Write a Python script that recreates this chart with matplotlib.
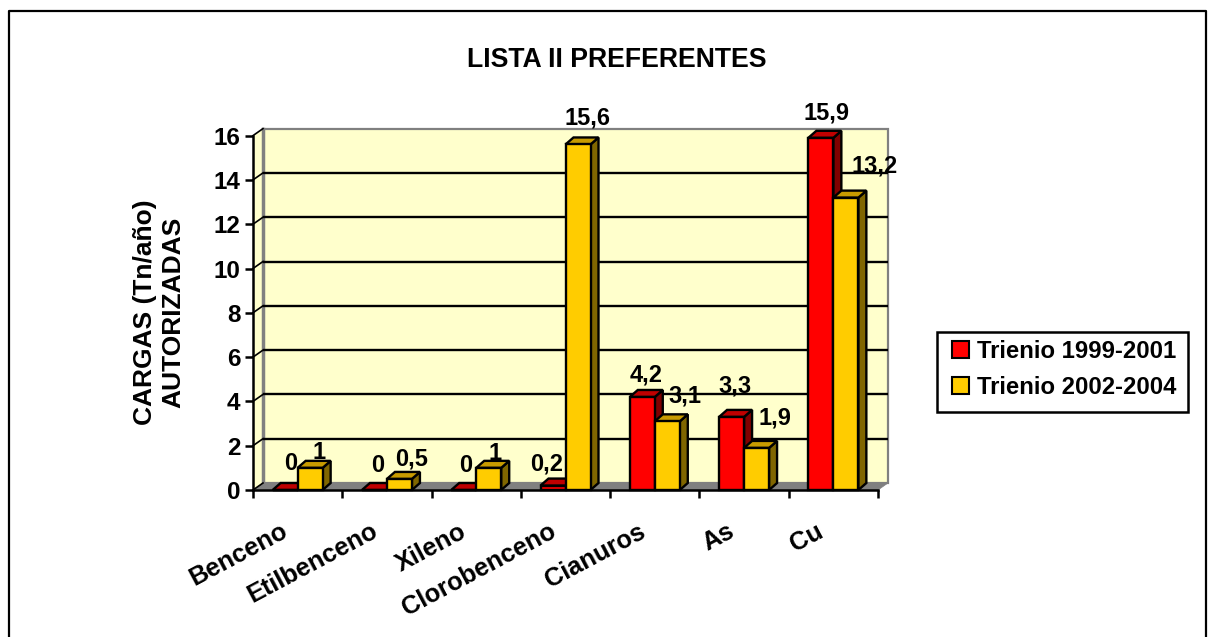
import matplotlib
matplotlib.use("Agg")
import matplotlib.pyplot as plt
from matplotlib.patches import Polygon, Patch, Rectangle
from matplotlib.transforms import ScaledTranslation

plt.rcParams["font.family"] = ["Liberation Sans", "DejaVu Sans"]
plt.rcParams["font.weight"] = "bold"

categories = ["Benceno", "Etilbenceno", "Xileno", "Clorobenceno", "Cianuros", "As", "Cu"]
trienio_1 = [0, 0, 0, 0.2, 4.2, 3.3, 15.9]
trienio_2 = [1, 0.5, 1, 15.6, 3.1, 1.9, 13.2]
labels_1 = ["0", "0", "0", "0,2", "4,2", "3,3", "15,9"]
labels_2 = ["1", "0,5", "1", "15,6", "3,1", "1,9", "13,2"]
series_names = ["Trienio 1999-2001", "Trienio 2002-2004"]
title = "LISTA II PREFERENTES"
y_label = "CARGAS (Tn/año)\nAUTORIZADAS"

# label offsets from the top of each bar, in pixels
offsets_1 = [(6, 27), (3, 25), (2, 24), (-6, 22), (4, 22), (3, 31), (6, 25)]
offsets_2 = [(9, 15), (12, 20), (6, 14), (9, 26), (18, 25), (18, 30), (29, 32)]

W, H = 1215, 637
fig = plt.figure(figsize=(W / 100, H / 100), dpi=100)
ax = fig.add_axes([253 / W, (H - 490) / H, 625 / W, 354.4 / H])
ax.set_xlim(0, 7)
ax.set_ylim(0, 16)
ax.set_facecolor("none")

# pixel sizes converted to data units
px_x = 7 / 625
px_y = 16 / 354.4
dx, dy = 10 * px_x, 7 * px_y
bdx, bdy = 8 * px_x, 7 * px_y
bar_w = 25 * px_x
lw = 1.7

# back wall, left wall and floor
ax.add_patch(Polygon([(dx, dy), (7 + dx, dy), (7 + dx, 16 + dy), (dx, 16 + dy)],
                     closed=True, fc="#FFFFCC", ec="#808080", lw=1.6, clip_on=False, zorder=1))
ax.add_patch(Polygon([(0, 0), (dx, dy), (dx, 16 + dy), (0, 16)],
                     closed=True, fc="#FFFFCC", ec="none", clip_on=False, zorder=1))
ax.plot([dx, dx], [dy, 16 + dy], color="#808080", lw=2.5, clip_on=False, zorder=1.5)
ax.add_patch(Polygon([(0, 0), (7, 0), (7 + dx, dy), (dx, dy)],
                     closed=True, fc="#808080", ec="#808080", lw=0.5, clip_on=False, zorder=1.5))
for v in range(0, 17, 2):
    if v > 0 and v < 16:
        ax.plot([dx, 7 + dx], [v + dy, v + dy], color="black", lw=1.7, clip_on=False, zorder=2,
                solid_capstyle="butt")
    ax.plot([0, dx], [v, v + dy], color="black", lw=1.2, clip_on=False, zorder=2)


def draw_bar(x, v, front, top, side, z):
    ax.add_patch(Polygon([(x + bar_w, 0), (x + bar_w + bdx, bdy), (x + bar_w + bdx, v + bdy), (x + bar_w, v)],
                         closed=True, fc=side, ec="black", lw=lw, clip_on=False, zorder=z))
    ax.add_patch(Polygon([(x, v), (x + bdx, v + bdy), (x + bar_w + bdx, v + bdy), (x + bar_w, v)],
                         closed=True, fc=top, ec="black", lw=lw, clip_on=False, zorder=z))
    ax.add_patch(Rectangle((x, 0), bar_w, v, fc=front, ec="black", lw=lw, clip_on=False, zorder=z))


for i in range(len(categories)):
    c = i + 0.5
    draw_bar(c - bar_w, trienio_1[i], "#FF0000", "#C00000", "#800000", 3 + i * 0.1)
    draw_bar(c, trienio_2[i], "#FFCC00", "#C89B00", "#806600", 3.05 + i * 0.1)
    ax.annotate(labels_1[i], (c - bar_w / 2, trienio_1[i]), xytext=offsets_1[i],
                textcoords="offset pixels", ha="center", va="center", fontsize=17, zorder=6)
    ax.annotate(labels_2[i], (c + bar_w / 2, trienio_2[i]), xytext=offsets_2[i],
                textcoords="offset pixels", ha="center", va="center", fontsize=17, zorder=6)

# axes
for s in ["top", "right"]:
    ax.spines[s].set_visible(False)
for s in ["left", "bottom"]:
    ax.spines[s].set_linewidth(1.8)
    ax.spines[s].set_zorder(5)
ax.set_yticks(range(0, 17, 2))
ax.tick_params(axis="y", labelsize=17.5, length=6, width=1.8, pad=3)
ax.set_xticks(range(0, 8))
ax.set_xticklabels([])
ax.tick_params(axis="x", length=6, width=1.8)
ax.set_xticks([i + 0.5 for i in range(7)], minor=True)
ax.set_xticklabels(categories, minor=True, rotation=28, ha="right", va="top",
                   rotation_mode="anchor", fontsize=18.3)
ax.tick_params(axis="x", which="minor", length=0, pad=21)
shift = ScaledTranslation(-17 / 100, 0, fig.dpi_scale_trans)
for t in ax.get_xticklabels(minor=True):
    t.set_transform(t.get_transform() + shift)

fig.text(616.5 / W, 1 - 60 / H, title, ha="center", va="center", fontsize=19.2)
fig.text(159 / W, 1 - 312.5 / H, y_label, rotation=90, ha="center", va="center",
         ma="center", fontsize=19, linespacing=1.2)

# legend box drawn on its own so the padding can match
fig.add_artist(Rectangle((937 / W, 1 - 412 / H), 251 / W, 80 / H, transform=fig.transFigure,
                         fc="white", ec="black", lw=1.8))
handles = [Patch(fc="#FF0000", ec="black", lw=1.5), Patch(fc="#FFCC00", ec="black", lw=1.5)]
leg = fig.legend(handles, series_names, loc="center", bbox_to_anchor=(1064 / W, 1 - 369.5 / H),
                 fontsize=17.2, frameon=False,
                 handlelength=0.72, handleheight=0.72, handletextpad=0.35, labelspacing=0.55,
                 borderpad=0, borderaxespad=0)
leg.set_zorder(10)

# outer frame, open at the bottom
fig.add_artist(plt.Line2D([9 / W, 9 / W, 1206 / W, 1206 / W], [0, 1 - 11 / H, 1 - 11 / H, 0],
                          color="black", lw=1.6))

fig.savefig("out.png", dpi=100)
